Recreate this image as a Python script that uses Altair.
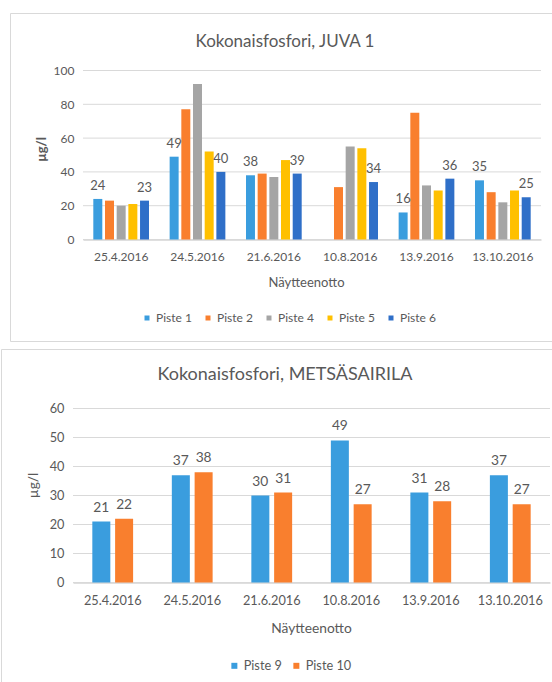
import altair as alt
import pandas as pd

# Sampling dates (category axis)
dates = ["25.4.2016", "24.5.2016", "21.6.2016", "10.8.2016", "13.9.2016", "13.10.2016"]

# Kokonaisfosfori, JUVA 1 (µg/l); Piste 1 has no sample on 10.8.2016
juva_sites = ["Piste 1", "Piste 2", "Piste 4", "Piste 5", "Piste 6"]
juva_piste1 = [24, 49, 38, None, 16, 35]
juva_piste2 = [23, 77, 39, 31, 75, 28]
juva_piste4 = [20, 92, 37, 55, 32, 22]
juva_piste5 = [21, 52, 47, 54, 29, 29]
juva_piste6 = [23, 40, 39, 34, 36, 25]
juva_labelled = ["Piste 1", "Piste 6"]
juva_colors = ["#3A9DDE", "#F97F2E", "#A5A5A5", "#FFC000", "#2F6FC8"]
juva_ticks = [0, 20, 40, 60, 80, 100]

# Kokonaisfosfori, METSÄSAIRILA (µg/l)
mets_sites = ["Piste 9", "Piste 10"]
mets_piste9 = [21, 37, 30, 49, 31, 37]
mets_piste10 = [22, 38, 31, 27, 28, 27]
mets_colors = ["#3A9DDE", "#F97F2E"]
mets_ticks = [0, 10, 20, 30, 40, 50, 60]

W, H = 552, 682
FONT = "Lato"
TXT = "#595959"
GRID = "#D9D9D9"


def long_table(sites, series):
    rows = []
    for site, vals in zip(sites, series):
        for d, v in zip(dates, vals):
            if v is not None:
                rows.append({"pvm": d, "site": site, "value": v})
    return pd.DataFrame(rows)


juva = long_table(juva_sites, [juva_piste1, juva_piste2, juva_piste4, juva_piste5, juva_piste6])
mets = long_table(mets_sites, [mets_piste9, mets_piste10])


def panel(df, sites, colors, ticks, labelled, *, xrange, yrange, pad_outer, pad_inner,
          bar_gap, font_scale, xtitle_x, ytitle_x, ytitle_y, ytitle_bold,
          legend_x, legend_y, symbol_size, col_pad, label_dy):
    x0 = xrange[0]
    x_axis = alt.Axis(
        orient="bottom", offset=yrange[0] - H, title="Näytteenotto",
        domainColor="#BFBFBF", ticks=False, grid=False,
        labelAngle=0, labelOverlap=False,
        labelFont=FONT, labelFontSize=12 * font_scale, labelColor=TXT, labelPadding=12,
        titleFont=FONT, titleFontSize=13 * font_scale, titleColor=TXT, titleFontWeight="normal",
        titleX=xtitle_x, titleY=37 * font_scale, titleBaseline="top",
    )
    y_axis = alt.Axis(
        orient="left", offset=-x0, values=ticks, title="µg/l",
        domain=False, ticks=False, grid=False,
        labelFont=FONT, labelFontSize=12 * font_scale, labelColor=TXT, labelPadding=9,
        titleFont=FONT, titleFontSize=13 * font_scale, titleColor=TXT,
        titleFontWeight="bold" if ytitle_bold else "normal",
        titleX=ytitle_x - x0, titleY=ytitle_y, titleBaseline="middle", titleAngle=270,
    )
    x_scale = alt.Scale(domain=dates, range=list(xrange), paddingInner=pad_inner, paddingOuter=pad_outer)
    y_scale = alt.Scale(domain=[ticks[0], ticks[-1]], range=list(yrange), nice=False, zero=True)

    X = alt.X("pvm:N", sort=dates, scale=x_scale, axis=x_axis)
    Y = alt.Y("value:Q", scale=y_scale, axis=y_axis)
    XO = alt.XOffset("site:N", sort=sites, scale=alt.Scale(domain=sites, paddingInner=bar_gap))

    grid = alt.Chart(pd.DataFrame({"value": ticks})).mark_rule(color=GRID, strokeWidth=1).encode(
        y=Y, x=alt.value(xrange[0]), x2=alt.value(xrange[1])
    )
    bars = alt.Chart(df).mark_bar().encode(
        x=X, xOffset=XO, y=Y,
        color=alt.Color(
            "site:N", sort=sites,
            scale=alt.Scale(domain=sites, range=colors),
            legend=alt.Legend(
                orient="none", legendX=legend_x, legendY=legend_y, direction="horizontal",
                title=None, symbolType="square", symbolSize=symbol_size, symbolStrokeWidth=0,
                labelFont=FONT, labelFontSize=12 * font_scale, labelColor=TXT,
                labelOffset=3, columnPadding=col_pad,
            ),
        ),
    )
    labels = alt.Chart(df).transform_filter(
        alt.FieldOneOfPredicate(field="site", oneOf=labelled)
    ).mark_text(font=FONT, fontSize=13 * font_scale, color=TXT, baseline="alphabetic", dy=label_dy).encode(
        x=X, xOffset=XO, y=Y, text=alt.Text("value:Q")
    )
    return alt.layer(grid, bars, labels)


top = panel(
    juva, juva_sites, juva_colors, juva_ticks, juva_labelled,
    xrange=(83, 541), yrange=(239.5, 70.5), pad_outer=0.135, pad_inner=0.27, bar_gap=0.23,
    font_scale=1.0, xtitle_x=306, ytitle_x=41, ytitle_y=149, ytitle_bold=True,
    legend_x=141, legend_y=312, symbol_size=25, col_pad=10, label_dy=-9,
)
bottom = panel(
    mets, mets_sites, mets_colors, mets_ticks, mets_sites,
    xrange=(73, 550), yrange=(582.5, 408.5), pad_outer=0.243, pad_inner=0.487, bar_gap=0.21,
    font_scale=1.06, xtitle_x=311, ytitle_x=33, ytitle_y=485, ytitle_bold=False,
    legend_x=228, legend_y=659, symbol_size=36, col_pad=8, label_dy=-10,
)

# Chart frames and titles
one = pd.DataFrame({"k": [0]})
frames = alt.layer(
    alt.Chart(one).mark_rect(fillOpacity=0, stroke=GRID, strokeWidth=1).encode(
        x=alt.value(10.5), x2=alt.value(620), y=alt.value(13.5), y2=alt.value(341.5)
    ),
    alt.Chart(one).mark_rect(fillOpacity=0, stroke=GRID, strokeWidth=1).encode(
        x=alt.value(1.5), x2=alt.value(620), y=alt.value(349.5), y2=alt.value(720)
    ),
    alt.Chart(one).mark_text(font=FONT, fontSize=17, color=TXT, baseline="middle", align="center").encode(
        x=alt.value(285), y=alt.value(42), text=alt.value("Kokonaisfosfori, JUVA 1")
    ),
    alt.Chart(one).mark_text(font=FONT, fontSize=18, color=TXT, baseline="middle", align="center").encode(
        x=alt.value(285), y=alt.value(375), text=alt.value("Kokonaisfosfori, METSÄSAIRILA")
    ),
)

chart = alt.layer(frames, top, bottom).resolve_scale(
    x="independent", y="independent", color="independent", xOffset="independent"
).properties(
    width=W, height=H, padding=0, background="white",
    autosize=alt.AutoSizeParams(type="none"),
).configure_view(stroke=None)

chart.save("out.html", embed_options={"renderer": "svg", "actions": False})
